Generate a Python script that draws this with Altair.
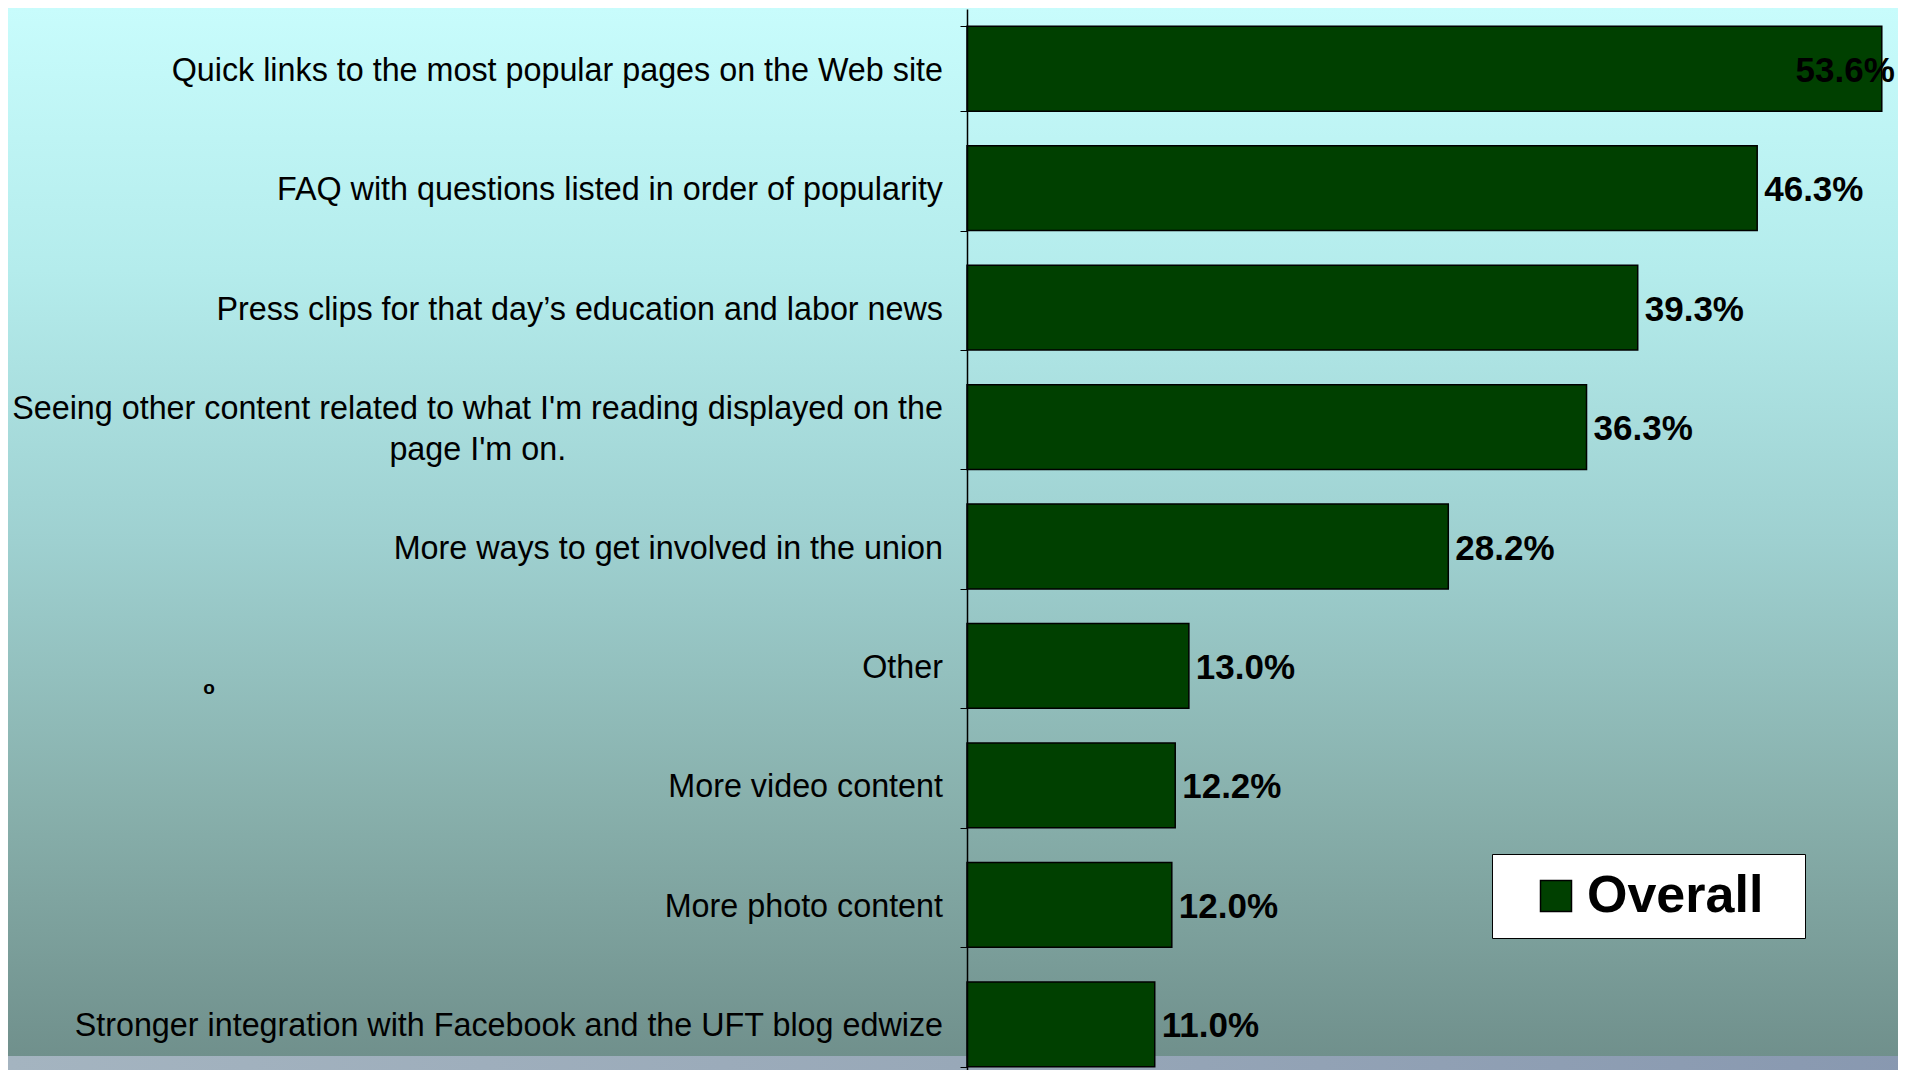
import altair as alt
import pandas as pd

NB = "\u00a0"
ZW = "\u200b"
categories = [
    "Quick links to the most popular pages on the Web site",
    "FAQ with questions listed in order of popularity",
    "Press clips for that day\u2019s education and labor news",
    "Seeing other content related to what I'm reading displayed on the\npage I'm on." + NB * 42 + ZW,
    "More ways to get involved in the union",
    "Other",
    "More video content",
    "More photo content",
    "Stronger integration with Facebook and the UFT blog edwize",
]
values = [53.6, 46.3, 39.3, 36.3, 28.2, 13.0, 12.2, 12.0, 11.0]
series = "Overall"

df = pd.DataFrame({"category": categories, "value": values, "series": [series] * len(values)})

W, H = 931, 1075
FONT = "Liberation Sans"
GREEN = "#004000"

bg = alt.Chart(pd.DataFrame({"a": [0]})).mark_rect(
    fill=alt.Gradient(
        gradient="linear", x1=0, y1=0, x2=0, y2=1,
        stops=[
            alt.GradientStop(offset=0.0, color="#c8fcfc"),
            alt.GradientStop(offset=0.25, color="#b4ecec"),
            alt.GradientStop(offset=0.51, color="#9ed0d0"),
            alt.GradientStop(offset=0.76, color="#88b0ac"),
            alt.GradientStop(offset=1.0, color="#70908c"),
        ],
    ),
    stroke=None,
).encode(x=alt.value(-959), x2=alt.value(W + 20), y=alt.value(-1), y2=alt.value(1047))

band = alt.Chart(pd.DataFrame({"a": [0]})).mark_rect(
    fill=alt.Gradient(
        gradient="linear", x1=0, y1=0, x2=1, y2=0,
        stops=[
            alt.GradientStop(offset=0.0, color="#a4b4c0"),
            alt.GradientStop(offset=0.5, color="#98a8b8"),
            alt.GradientStop(offset=1.0, color="#8898b0"),
        ],
    ),
    stroke=None,
).encode(x=alt.value(-959), x2=alt.value(W + 20), y=alt.value(1047), y2=alt.value(1100))

yenc = alt.Y(
    "category:N",
    sort=None,
    scale=alt.Scale(paddingInner=0.29, paddingOuter=0.145),
    axis=alt.Axis(
        title=None,
        labels=False,
        tickBand="extent",
        tickSize=7,
        tickColor="black",
        domainColor="black",
        domainWidth=1.5,
        grid=False,
        zindex=1,
    ),
)
xenc = alt.X("value:Q", scale=alt.Scale(domain=[0, 54.55], nice=False, zero=True), axis=None)

bars = alt.Chart(df).mark_bar(stroke="black", strokeWidth=1.5).encode(
    y=yenc,
    x=xenc,
    color=alt.Color(
        "series:N",
        scale=alt.Scale(range=[GREEN]),
        legend=alt.Legend(
            title=None,
            orient="none",
            legendX=525,
            legendY=845,
            fillColor="white",
            strokeColor="black",
            padding=16,
            symbolType="square",
            symbolSize=961,
            symbolStrokeColor="black",
            symbolStrokeWidth=1.5,
            symbolOffset=22,
            labelOffset=5,
            labelLimit=1000,
            labelFont=FONT,
            labelFontSize=52,
            labelFontWeight="bold",
            labelColor="black",
            labelExpr="datum.label + '\u00a0\u2009\u200b'",
        ),
    ),
)

cat_single = alt.Chart(df).transform_filter("indexof(datum.category, '\\n') < 0").mark_text(
    align="right", baseline="middle", dy=2, font=FONT, fontSize=32.3, color="black"
).encode(y=alt.Y("category:N", sort=None), x=alt.value(-24), text="category:N")
cat_multi = alt.Chart(df).transform_filter("indexof(datum.category, '\\n') >= 0").mark_text(
    align="right", baseline="middle", dy=-18, lineBreak="\n", lineHeight=41,
    font=FONT, fontSize=32.3, color="black"
).encode(y=alt.Y("category:N", sort=None), x=alt.value(-24), text="category:N")

lab_base = alt.Chart(df).transform_calculate(lab="format(datum.value, '.1f') + '%'")
labels_out = lab_base.transform_filter("datum.value < 50").mark_text(
    align="left", baseline="middle", dx=7, dy=2, font=FONT, fontSize=35, fontWeight="bold", color="black"
).encode(y=alt.Y("category:N", sort=None), x="value:Q", text="lab:N")
labels_in = lab_base.transform_filter("datum.value >= 50").mark_text(
    align="right", baseline="middle", dx=13, dy=2, font=FONT, fontSize=35, fontWeight="bold", color="black"
).encode(y=alt.Y("category:N", sort=None), x="value:Q", text="lab:N")

stray = alt.Chart(pd.DataFrame({"t": ["o"]})).mark_text(
    font=FONT, fontSize=19, fontWeight="bold", color="black", baseline="middle", align="center"
).encode(x=alt.value(-758), y=alt.value(679), text="t:N")

chart = alt.layer(bg, band, bars, cat_single, cat_multi, labels_out, labels_in, stray).properties(
    width=W,
    height=H,
    autosize=alt.AutoSizeParams(type="none"),
    padding={"left": 959, "top": 1, "right": 0, "bottom": -14},
).configure_view(stroke="#555555", strokeWidth=1)

chart.save("out.html", embed_options={"renderer": "svg", "actions": False})
